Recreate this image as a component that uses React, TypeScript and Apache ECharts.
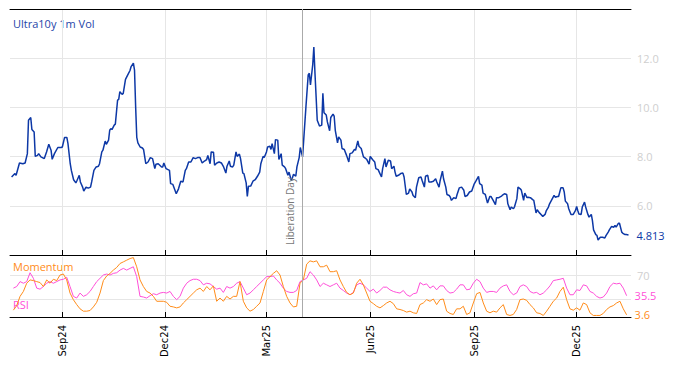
import React, { useEffect, useRef } from "react";
import * as echarts from "echarts";

const DAY = 86400000;
const BASE_DATE = "2024-09-01"; // day 0

// Ultra10y 1m Vol : day offsets from 2024-09-01 and values
const volDays = [
  -45, -42, -41, -38, -35, -33, -31, -30, -28, -27, -25, -24, -22, -21, -19, -16, -14, -12, -10, -9, -7, -4, -1, 0,
  2, 4, 5, 7, 8, 10, 12, 13, 15, 16, 18, 19, 21, 23, 25, 26, 28, 30, 32, 33, 35, 36, 38, 39, 41, 42, 43, 44, 46, 47,
  49, 50, 51, 53, 54, 56, 58, 60, 61, 63, 64, 65, 66, 67, 69, 71, 72, 74, 76, 78, 80, 82, 83, 85, 88,
  89, 90, 92, 95, 96, 98, 101, 103, 105, 107, 109, 110, 112, 114, 116, 118, 120, 122, 124, 126, 128, 129, 131, 132,
  134, 135, 137, 139, 141, 143, 145, 146, 148, 149, 151, 152, 154, 155, 157, 158, 160, 161, 163, 164, 165, 167, 169,
  171, 173, 175, 176, 178, 179, 181, 182, 184, 185, 186, 188, 189, 191, 192, 194, 195, 197, 198, 200, 201, 203, 204,
  205, 207, 208, 210, 211, 213, 214, 216, 218, 219, 220, 222, 223, 224,
  225, 226, 228, 230, 231, 232, 234, 235, 237, 238, 240, 241, 242, 244, 245, 247, 248, 250, 252, 254, 255, 257, 259,
  260, 262, 263, 265, 267, 268, 270, 272, 273, 275, 277, 278, 280, 281, 283, 284, 286, 287, 289, 291, 292, 294, 295,
  296, 298, 300, 302, 303, 305, 307, 308, 310, 311, 313, 314, 316, 318, 319, 321, 322, 324, 325, 327, 329, 331, 332,
  334, 335, 337, 338, 340, 341, 343, 344, 345, 347, 349, 350, 352, 354, 356, 357,
  359, 361, 363, 365, 367, 369, 370, 372, 373, 375, 377, 379, 380, 382, 384, 385, 387, 389, 390, 392, 394, 395, 397,
  398, 400, 401, 403, 404, 406, 407, 409, 410, 412, 413, 415, 417, 418, 420, 421, 423, 424, 426, 428, 429, 431, 432,
  434, 436, 437, 439, 440, 442, 444, 445, 446, 448, 449, 451, 453, 455, 456, 457, 458, 460, 461, 463, 464, 466, 467,
  469, 470, 471, 473, 474, 475, 477, 479, 481, 482, 484, 485, 487, 489, 490, 491, 493, 494, 496, 497, 499, 500, 502,
];
const volValues = [
  7.17, 7.31, 7.24, 7.74, 7.71, 7.74, 8.12, 9.48, 9.59, 9.1, 9.0, 8.01, 8.05, 8.12, 7.99, 7.92, 8.19, 8.5, 8.26, 7.89, 8.12, 8.37, 8.37, 8.39,
  8.78, 8.78, 8.53, 7.71, 7.44, 7.06, 6.93, 7.03, 7.24, 6.97, 6.76, 6.6, 6.76, 6.72, 6.76, 6.97, 7.44, 7.58, 7.61, 7.71, 8.19, 8.26, 8.63, 8.5, 8.67, 9.07, 9.14, 9.1, 9.28, 9.32,
  10.3, 10.33, 10.64, 10.53, 10.57, 11.14, 11.32, 11.5, 11.66, 11.8, 11.52, 10.03, 8.78, 8.56, 8.39, 8.35, 8.29, 7.71, 7.78, 7.96, 7.92, 7.51, 7.69, 7.71, 7.58,
  7.58, 7.74, 7.51, 7.44, 6.9, 6.87, 6.49, 6.69, 7.0, 6.97, 7.44, 7.51, 7.78, 7.78, 7.96, 7.92, 7.96, 7.96, 7.74, 7.82, 7.88, 8.05, 7.71, 8.19,
  8.18, 7.65, 7.74, 7.78, 7.74, 7.58, 7.33, 7.61, 7.82, 7.61, 7.58, 7.65, 8.19, 8.01, 8.1, 7.92, 7.33, 7.31, 6.93, 6.38, 6.79, 6.8, 7.0,
  7.06, 7.2, 7.37, 7.71, 8.01, 7.96, 8.19, 8.39, 8.42, 8.29, 8.53, 8.12, 8.69, 8.67, 7.88, 8.12, 7.65, 7.58, 7.51, 7.24, 7.37, 7.03, 7.14,
  7.28, 7.2, 7.58, 7.96, 8.37, 7.99, 8.67, 10.03, 11.32, 11.39, 10.91, 11.73, 12.45, 11.39,
  10.44, 9.48, 9.24, 9.28, 10.57, 9.78, 9.69, 9.41, 9.05, 9.59, 9.73, 9.65, 9.07, 8.56, 8.8, 8.67, 8.33, 8.29, 8.05, 7.78, 8.12, 8.15, 8.29,
  8.26, 8.64, 8.42, 8.33, 7.99, 7.96, 7.88, 7.69, 8.01, 7.88, 7.78, 7.51, 7.47, 7.37, 7.17, 7.51, 7.92, 7.58, 7.85, 7.82, 7.51, 7.61, 7.37,
  7.2, 7.24, 7.31, 7.33, 7.17, 6.46, 6.52, 6.69, 6.56, 6.42, 6.33, 6.76, 7.14, 7.17, 7.03, 6.76, 7.2, 7.24, 6.97, 6.97, 7.0, 7.1, 6.97,
  6.76, 7.03, 7.41, 7.1, 6.76, 6.46, 6.42, 6.35, 6.22, 6.33, 6.29, 6.46, 6.73, 6.76, 6.63, 6.38,
  6.42, 6.56, 6.6, 6.87, 7.03, 7.2, 6.9, 6.84, 6.52, 6.46, 6.11, 6.38, 6.38, 6.22, 6.05, 6.33, 6.33, 6.38, 6.42, 6.49, 6.46, 6.08, 5.84,
  5.95, 5.88, 5.97, 6.29, 6.76, 6.69, 6.63, 6.22, 6.52, 6.33, 6.35, 6.33, 6.25, 6.22, 5.71, 5.84, 5.71, 5.67, 5.57, 5.65, 5.79, 5.95, 6.08,
  6.25, 6.42, 6.35, 6.38, 6.38, 6.73, 6.73, 6.56, 6.19, 6.08, 5.88, 5.65, 5.65, 5.81, 5.97, 5.81, 5.67, 5.65, 5.95, 6.15, 5.95, 5.65, 5.54,
  5.65, 5.4, 5.02, 4.83, 4.8, 4.61, 4.72, 4.72, 4.69, 4.79, 4.93, 5.02, 5.16, 5.13, 5.2, 5.13, 5.29, 5.29, 4.93, 4.88, 4.83, 4.83, 4.813,
];

// Oscillators, sampled every ~2.955 days starting at day -43.4
const oscStartDay = -43.4;
const oscStepDays = 2.955;
const rsiValues = [
  48.1, 50.8, 59.0, 56.3, 59.0, 73.8, 64.5, 48.1, 46.4, 50.8, 56.3, 59.0, 56.3, 59.0, 61.8, 62.9, 66.2, 50.8, 34.4, 31.6,
  39.9, 34.4, 37.1, 42.6, 50.8, 59.0, 64.5, 70.0, 71.6, 70.0, 72.7, 73.8, 78.2, 81.0, 78.2, 81.0, 83.7, 67.3, 34.4, 33.3,
  31.6, 35.5, 38.8, 37.1, 39.9, 41.0, 39.9, 42.6, 34.4, 28.9, 34.4, 48.1, 56.3, 60.7, 62.9, 62.9, 60.7, 53.6, 56.3, 55.2,
  50.8, 46.4,
  48.1, 41.0, 50.8, 48.1, 50.8, 56.3, 59.0, 48.1, 37.1, 39.9, 45.3, 50.8, 56.3, 61.8, 67.3, 67.3, 68.4, 61.8, 56.3, 48.1,
  42.6, 41.0, 41.0, 44.2, 59.0, 61.8, 64.5, 75.5, 70.0, 61.8, 50.8, 56.3, 53.6, 50.8, 53.6, 56.3, 48.1, 44.2, 39.9, 37.1,
  41.0, 53.6, 56.3, 53.6, 48.1, 42.6, 46.4, 39.9, 44.2, 49.7, 49.7, 45.3, 42.6, 41.0, 39.9, 44.2, 37.1, 34.4, 38.8, 39.9,
  57.4, 53.6, 55.2, 48.1, 51.9, 45.3,
  51.9, 51.9, 44.2, 39.9, 41.0, 46.4, 53.6, 53.6, 45.3, 46.4, 56.3, 62.9, 59.0, 48.1, 41.0, 42.6, 42.6, 41.0, 48.1, 51.9,
  53.6, 42.6, 37.1, 39.9, 50.8, 53.6, 50.8, 42.6, 39.9, 41.0, 37.1, 39.9, 45.3, 51.9, 60.7, 61.8, 62.9, 64.5, 48.1, 37.1,
  37.1, 45.3, 44.2, 53.6, 51.9, 42.6, 39.9, 34.4, 31.6, 33.3, 39.9, 50.8, 56.3, 55.2, 56.3, 48.1, 35.5,
];
const momValues = [
  11.4, 19.0, 34.4, 42.6, 56.3, 61.8, 60.7, 59.0, 57.4, 50.8, 61.8, 56.3, 62.9, 60.7, 70.0, 71.6, 61.8, 39.9, 28.9, 20.7,
  13.6, 9.7, 9.7, 10.8, 16.8, 24.5, 39.9, 60.7, 68.4, 72.7, 78.2, 82.6, 89.2, 91.9, 94.7, 97.4, 99.0, 83.7, 61.8, 50.8,
  42.6, 39.9, 34.4, 26.2, 26.2, 26.2, 24.5, 17.9, 16.8, 15.2, 16.8, 23.4, 28.9, 34.4, 39.9, 45.3, 48.1, 42.6, 50.8, 45.3,
  51.9, 26.2,
  31.6, 26.2, 34.4, 30.0, 34.4, 34.4, 59.0, 26.2, 15.2, 9.7, 12.5, 17.9, 23.4, 42.6, 61.8, 67.3, 72.7, 77.1, 70.0, 50.8,
  34.4, 23.4, 16.8, 17.9, 56.3, 61.8, 88.1, 93.6, 91.9, 93.6, 83.7, 83.7, 86.4, 75.5, 75.5, 77.1, 61.8, 50.8, 41.0, 37.1,
  39.9, 56.3, 62.9, 53.6, 39.9, 26.2, 22.3, 17.9, 15.2, 19.0, 23.4, 26.2, 22.3, 13.6, 12.5, 10.8, 8.1, 9.7, 7.0, 5.9,
  20.7, 23.4, 28.9, 26.2, 30.0, 20.7,
  28.9, 30.0, 9.7, 5.9, 4.2, 13.6, 13.6, 17.9, 4.2, 7.0, 23.4, 38.8, 41.0, 23.4, 9.7, 7.0, 9.7, 8.1, 15.2, 20.7,
  4.2, 2.6, 4.2, 12.5, 28.9, 30.0, 27.8, 20.7, 15.2, 7.0, 5.9, 2.6, 9.7, 17.9, 26.2, 31.6, 42.6, 49.7, 28.9, 13.6,
  11.4, 15.2, 11.4, 23.4, 20.7, 7.0, 2.6, 2.6, 2.6, 5.9, 12.5, 16.8, 19.0, 23.4, 26.2, 13.6, 3.6,
];

const tickDates = ["2024-09-01", "2024-12-01", "2025-03-01", "2025-06-01", "2025-09-01", "2025-12-01"];
const tickLabels = ["Sep24", "Dec24", "Mar25", "Jun25", "Sep25", "Dec25"];
const oscGridValues = [30, 70];
const oscLabelValues = [70];
const eventDate = "2025-04-02";
const eventLabel = "Liberation Day";

const VOL_COLOR = "#0d38a6";
const RSI_COLOR = "#ff4fd8";
const MOM_COLOR = "#ff8c1a";
const GRID_COLOR = "#e6e6e6";
const FONT = "Open Sans";

export default function App() {
  const ref = useRef<HTMLDivElement>(null);
  useEffect(() => {
    if (!ref.current) return;
    const chart = echarts.init(ref.current, undefined, { renderer: "svg" });
    const ts = (d: string) => new Date(d + "T00:00:00Z").getTime();
    const base = ts(BASE_DATE);
    const toDay = (d: string) => Math.round((ts(d) - base) / DAY);
    const ticks = tickDates.map(toDay);
    const xMin = -46.4;
    const xMax = 504.2;
    const evDay = toDay(eventDate);
    const labelFor = (v: number) => {
      const i = ticks.findIndex((t) => Math.abs(t - v) < 0.5);
      return i >= 0 ? tickLabels[i] : "";
    };
    const volData = volDays.map((d, i) => [d, volValues[i]]);
    const oscX = (i: number) => oscStartDay + i * oscStepDays;
    const rsiData = rsiValues.map((v, i) => [oscX(i), v]);
    const momData = momValues.map((v, i) => [oscX(i), v]);

    const baseX = {
      type: "value" as const,
      min: xMin,
      max: xMax,
      axisLine: { show: true, onZero: false, lineStyle: { color: "#000", width: 1 } },
      axisTick: { show: true, inside: true, length: 5, customValues: ticks, lineStyle: { color: "#000" } },
      splitLine: { show: true, lineStyle: { color: GRID_COLOR, width: 1 } },
    };

    chart.setOption({
      animation: false,
      textStyle: { fontFamily: FONT },
      grid: [
        { left: 10, right: 43, top: 9, height: 246 },
        { left: 10, right: 43, top: 257, height: 60 },
      ],
      xAxis: [
        { ...baseX, gridIndex: 0, axisLabel: { show: false, customValues: ticks } },
        {
          type: "value",
          gridIndex: 0,
          position: "top",
          min: xMin,
          max: xMax,
          axisLine: { show: true, onZero: false, lineStyle: { color: "#000", width: 1 } },
          axisTick: { show: false },
          axisLabel: { show: false },
          splitLine: { show: false },
        },
        {
          ...baseX,
          gridIndex: 1,
          axisLabel: {
            show: true,
            customValues: ticks,
            rotate: 90,
            margin: 8,
            color: "#000",
            fontSize: 10,
            fontFamily: "DejaVu Sans",
            formatter: (v: number) => labelFor(v),
          },
        },
      ],
      yAxis: [
        {
          type: "value",
          gridIndex: 0,
          position: "right",
          min: 4,
          max: 14,
          interval: 2,
          axisLine: { show: false },
          axisTick: { show: false },
          axisLabel: {
            color: "#cfcfcf",
            fontSize: 11,
            margin: 6,
            showMinLabel: false,
            showMaxLabel: false,
            formatter: (v: number) => v.toFixed(1),
          },
          splitLine: { show: true, lineStyle: { color: GRID_COLOR } },
        },
        {
          type: "value",
          gridIndex: 1,
          position: "right",
          min: 0,
          max: 100,
          axisLine: { show: false },
          axisTick: { show: false, customValues: oscGridValues },
          axisLabel: { color: "#cfcfcf", fontSize: 11, margin: 6, customValues: oscLabelValues },
          splitLine: { show: true, lineStyle: { color: GRID_COLOR } },
        },
      ],
      graphic: [
        { type: "text", left: 13, top: 18, style: { text: "Ultra10y 1m Vol", fill: "#2445a8", font: `11px "${FONT}"` } },
        { type: "text", left: 13, top: 261, style: { text: "Momentum", fill: MOM_COLOR, font: `11px "${FONT}"` } },
        { type: "text", left: 13, top: 299, style: { text: "RSI", fill: RSI_COLOR, font: `11px "${FONT}"` } },
      ],
      series: [
        {
          name: "Ultra10y 1m Vol",
          type: "line",
          xAxisIndex: 0,
          yAxisIndex: 0,
          data: volData,
          symbol: "none",
          lineStyle: { color: VOL_COLOR, width: 1.5 },
          itemStyle: { color: VOL_COLOR },
          endLabel: {
            show: true,
            color: VOL_COLOR,
            fontSize: 11,
            distance: 8,
            formatter: (p: any) => Number(p.value[1]).toFixed(3),
          },
          markLine: {
            silent: true,
            symbol: ["none", "none"],
            lineStyle: { color: "#aaaaaa", width: 1, type: "solid" },
            label: {
              show: true,
              formatter: eventLabel,
              position: "insideStartTop",
              color: "#777",
              fontSize: 10,
              distance: [10, 8],
            },
            data: [{ xAxis: evDay }],
          },
        },
        {
          name: "RSI",
          type: "line",
          xAxisIndex: 2,
          yAxisIndex: 1,
          data: rsiData,
          symbol: "none",
          lineStyle: { color: RSI_COLOR, width: 1 },
          itemStyle: { color: RSI_COLOR },
          endLabel: {
            show: true,
            color: RSI_COLOR,
            fontSize: 11,
            distance: 8,
            formatter: (p: any) => Number(p.value[1]).toFixed(1),
          },
          markLine: {
            silent: true,
            symbol: ["none", "none"],
            lineStyle: { color: "#aaaaaa", width: 1, type: "solid" },
            label: { show: false },
            data: [{ xAxis: evDay }],
          },
        },
        {
          name: "Momentum",
          type: "line",
          xAxisIndex: 2,
          yAxisIndex: 1,
          data: momData,
          symbol: "none",
          lineStyle: { color: MOM_COLOR, width: 1 },
          itemStyle: { color: MOM_COLOR },
          endLabel: {
            show: true,
            color: MOM_COLOR,
            fontSize: 11,
            distance: 8,
            formatter: (p: any) => Number(p.value[1]).toFixed(1),
          },
        },
      ],
    });
    return () => chart.dispose();
  }, []);
  return (
    <div
      ref={ref}
      style={{ position: "fixed", left: 0, top: 0, width: 674, height: 366, background: "#fff" }}
    />
  );
}
